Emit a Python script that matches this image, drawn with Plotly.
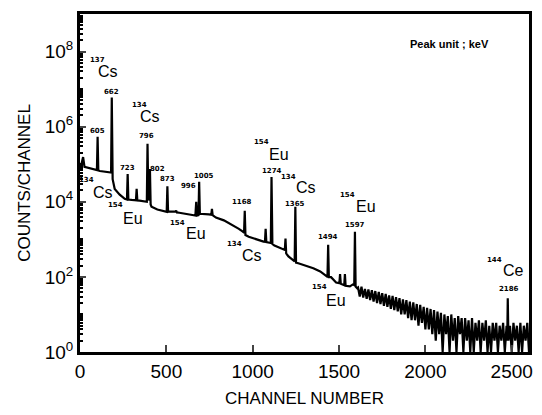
import plotly.graph_objects as go

# ---- spectrum data (channel, counts) ----
channel = [8, 18, 26, 50, 86, 98, 102, 106, 115, 150, 172, 180, 184, 189, 201, 215, 230, 259,
           272, 276, 280, 299, 324, 328, 332, 345, 379, 387, 391, 396, 402, 405, 409, 414, 448,
           489, 502, 506, 510, 517, 553, 557, 561, 575, 632, 668, 673, 677, 686, 690, 694, 707,
           747, 760, 764, 768, 787, 833, 879, 920, 943, 950, 954, 958, 977, 1023, 1063, 1071,
           1075, 1079, 1092, 1105, 1109, 1114, 1126, 1167, 1186, 1190, 1194, 1207, 1236, 1243,
           1247, 1251, 1264, 1305, 1351, 1391, 1425, 1433, 1437, 1441, 1454, 1483, 1502, 1506,
           1510, 1517, 1530, 1534, 1538, 1563, 1580, 1588, 1592, 1596, 1605,
           1610, 1620, 1630, 1640, 1650, 1660, 1670, 1680, 1690, 1700,
           1710, 1720, 1730, 1740, 1750, 1760, 1770, 1780, 1790, 1800,
           1810, 1820, 1830, 1840, 1850, 1860, 1870, 1880, 1890, 1900,
           1910, 1920, 1930, 1940, 1950, 1960, 1970, 1980, 1990, 2000,
           2010, 2020, 2030, 2040, 2050, 2060, 2070, 2080, 2090, 2100,
           2110, 2120, 2130, 2140, 2150, 2160, 2170, 2180, 2190, 2200,
           2210, 2220, 2230, 2240, 2250, 2260, 2270, 2280, 2290, 2300,
           2310, 2320, 2330, 2340, 2350, 2360, 2370, 2380, 2390, 2400,
           2410, 2420, 2430, 2440, 2450, 2460, 2470, 2474, 2477, 2481,
           2490, 2500, 2510, 2520, 2530, 2540, 2550, 2560, 2570, 2580, 2590, 2600]
counts = [1.0e5, 1.55e5, 8.5e4, 8.0e4, 7.4e4, 7.0e4, 5.4e5, 6.8e4, 6.6e4, 6.3e4, 6.2e4, 6.0e4,
          6.0e6, 4.0e4, 2.2e4, 1.8e4, 1.55e4, 1.2e4, 1.15e4, 5.5e4, 1.15e4, 1.12e4, 1.1e4, 2.2e4,
          1.08e4, 1.07e4, 1.0e4, 1.0e4, 3.5e5, 1.1e4, 1.2e4, 7.4e4, 8.5e3, 7.4e3, 6.2e3, 5.5e3,
          5.4e3, 2.6e4, 5.4e3, 5.5e3, 5.5e3, 5.8e3, 5.2e3, 5.1e3, 4.6e3, 4.3e3, 1.0e4, 4.3e3,
          4.4e3, 3.4e4, 4.8e3, 4.8e3, 4.6e3, 4.5e3, 6.5e3, 4.4e3, 3.8e3, 3.2e3, 2.45e3, 1.9e3,
          1.6e3, 1.5e3, 5.8e3, 1.3e3, 1.17e3, 980, 870, 860, 1.9e3, 840, 810, 800, 4.6e4, 750,
          680, 560, 520, 1.05e3, 420, 350, 275, 260, 7.4e3, 240, 230, 200, 170, 140, 102, 100,
          720, 98, 98, 71, 68, 118, 66, 63, 60, 118, 58, 56, 63, 60, 1.6e3, 55, 50,
          52, 30, 55, 28, 48, 26, 46, 24, 44, 22,
          42, 20, 40, 19, 37, 17, 35, 16, 32, 14,
          31, 13, 29, 12, 27, 10, 25, 10, 24, 8,
          22, 7, 21, 7, 19, 5, 18, 6, 16, 4,
          15, 4, 14, 3, 13, 2, 12, 3, 11, 1,
          10, 3, 9, 1, 10, 2, 8, 1, 9, 3,
          8, 1, 8, 2, 7, 1, 8, 1, 6, 2,
          7, 1, 6, 2, 7, 1, 5, 1, 6, 2,
          6, 1, 5, 2, 6, 1, 5, 2, 27, 2,
          5, 1, 6, 2, 5, 1, 6, 1, 5, 2, 6, 1]

# ---- tick labels ----
x_ticks = [0, 500, 1000, 1500, 2000, 2500]
y_ticks = [1, 1e2, 1e4, 1e6, 1e8]
y_ticktext = ["10<sup>0</sup>", "10<sup>2</sup>", "10<sup>4</sup>", "10<sup>6</sup>", "10<sup>8</sup>"]

# ---- peak labels: energy (keV) ----
energy_labels = ["605", "662", "723", "796", "802", "873", "996", "1005", "1168", "1274",
                 "1365", "1494", "1597", "2186"]
# ---- nuclide labels ----
mass_numbers = ["137", "134", "134", "154", "154", "134", "154", "134", "154", "154", "144"]
elements = ["Cs", "Cs", "Cs", "Eu", "Eu", "Cs", "Eu", "Cs", "Eu", "Eu", "Ce"]

# label anchor positions (channel, log10 counts)
energy_pos = [(103, 5.88), (184, 6.91), (276, 4.90), (385, 5.75), (448, 4.87), (506, 4.61),
              (626, 4.42), (718, 4.69), (937, 4.00), (1109, 4.82), (1247, 3.95), (1437, 3.07),
              (1592, 3.39), (2483, 1.67)]
mass_pos = [(104, 7.78), (345, 6.58), (38, 4.57), (208, 3.91), (565, 3.43), (892, 2.87),
            (1053, 5.58), (1208, 4.65), (1547, 4.17), (1387, 1.74), (2398, 2.45)]
elem_pos = [(163, 7.47), (404, 6.28), (134, 4.26), (307, 3.55), (674, 3.15), (996, 2.57),
            (1151, 5.27), (1307, 4.37), (1657, 3.87), (1485, 1.38), (2508, 2.17)]

fig = go.Figure()
fig.add_trace(go.Scatter(x=channel, y=counts, mode="lines",
                         line=dict(color="black", width=2.2), showlegend=False))

small = dict(family="DejaVu Sans", size=7, color="black")
big = dict(family="Liberation Sans", size=16, color="black")
ann = []
for t, (x, y) in zip(energy_labels, energy_pos):
    ann.append(dict(x=x, y=y, xref="x", yref="y", text="<b>%s</b>" % t, showarrow=False, font=small))
for t, (x, y) in zip(mass_numbers, mass_pos):
    ann.append(dict(x=x, y=y, xref="x", yref="y", text="<b>%s</b>" % t, showarrow=False, font=small))
for t, (x, y) in zip(elements, elem_pos):
    ann.append(dict(x=x, y=y, xref="x", yref="y", text=t, showarrow=False, font=big))
ann.append(dict(x=2138, y=8.21, xref="x", yref="y", text="<b>Peak unit ; keV</b>", showarrow=False,
                font=dict(family="Liberation Sans", size=11, color="black")))

minor_vals = [k * 10 ** d for d in range(0, 9) for k in range(2, 10)] + [10 ** d for d in (1, 3, 5, 7)]

fig.update_layout(
    width=542, height=415,
    margin=dict(l=80, r=9, t=14, b=61),
    paper_bgcolor="white", plot_bgcolor="white",
    annotations=ann,
    font=dict(family="Liberation Sans", color="black"),
    xaxis=dict(range=[0, 2600], tickvals=x_ticks, ticks="inside", ticklen=7, tickwidth=2,
               showline=True, linewidth=3, linecolor="black", mirror=True, showgrid=False,
               zeroline=False, tickfont=dict(size=19, family="Liberation Sans"),
               title=dict(text="CHANNEL NUMBER", font=dict(size=17, family="Liberation Sans"), standoff=12)),
    yaxis=dict(type="log", range=[0, 9], tickvals=y_ticks, ticktext=y_ticktext, ticks="inside",
               ticklen=6, tickwidth=2, showline=True, linewidth=3, linecolor="black", mirror=True,
               showgrid=False, zeroline=False, tickfont=dict(size=19, family="Liberation Sans"),
               minor=dict(tickvals=minor_vals, ticks="inside", ticklen=3, tickwidth=1.5,
                          tickcolor="black", showgrid=False),
               title=dict(text="COUNTS/CHANNEL", font=dict(size=17, family="Liberation Sans"), standoff=10)),
)

fig.write_html("out.html")
